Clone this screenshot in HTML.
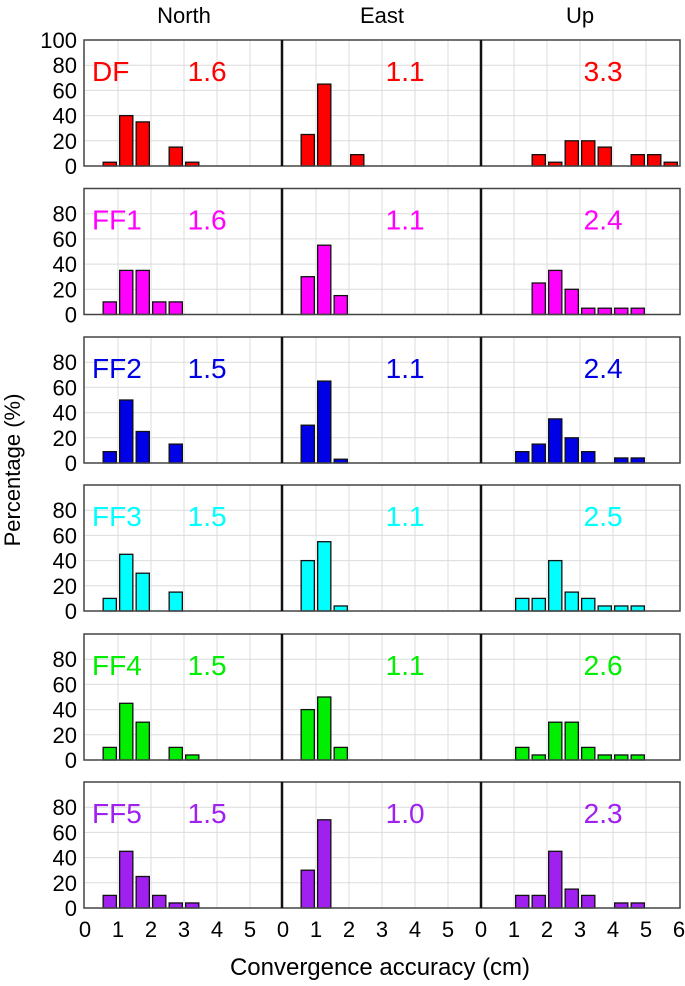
<!DOCTYPE html>
<html><head><meta charset="utf-8"><style>
body{margin:0;background:#fff;width:685px;height:986px;overflow:hidden}
svg{display:block;font-family:"Liberation Sans",Arial,sans-serif}
</style></head><body>
<svg id="chart" width="685" height="986" viewBox="0 0 685 986" xmlns="http://www.w3.org/2000/svg"></svg>
<script>
const rowNames = ["DF","FF1","FF2","FF3","FF4","FF5"];
const rowColors = ["#ff0000","#ff00ff","#0000e6","#00ffff","#00ee00","#a020f0"];
const colNames = ["North","East","Up"];
const binCenters = [0.75,1.25,1.75,2.25,2.75,3.25,3.75,4.25,4.75,5.25,5.75];
const medians = [
  ["1.6","1.1","3.3"],["1.6","1.1","2.4"],["1.5","1.1","2.4"],
  ["1.5","1.1","2.5"],["1.5","1.1","2.6"],["1.5","1.0","2.3"]];
const dfVals = [
  [3,40,35,0,15,3,0,0,0,0,0],
  [25,65,0,9,0,0,0,0,0,0,0],
  [0,0,9,3,20,20,15,0,9,9,3]];
const ff1Vals = [
  [10,35,35,10,10,0,0,0,0,0,0],
  [30,55,15,0,0,0,0,0,0,0,0],
  [0,0,25,35,20,5,5,5,5,0,0]];
const ff2Vals = [
  [9,50,25,0,15,0,0,0,0,0,0],
  [30,65,3,0,0,0,0,0,0,0,0],
  [0,9,15,35,20,9,0,4,4,0,0]];
const ff3Vals = [
  [10,45,30,0,15,0,0,0,0,0,0],
  [40,55,4,0,0,0,0,0,0,0,0],
  [0,10,10,40,15,10,4,4,4,0,0]];
const ff4Vals = [
  [10,45,30,0,10,4,0,0,0,0,0],
  [40,50,10,0,0,0,0,0,0,0,0],
  [0,10,4,30,30,10,4,4,4,0,0]];
const ff5Vals = [
  [10,45,25,10,4,4,0,0,0,0,0],
  [30,70,0,0,0,0,0,0,0,0,0],
  [0,10,10,45,15,10,0,4,4,0,0]];
const allVals = [dfVals,ff1Vals,ff2Vals,ff3Vals,ff4Vals,ff5Vals];
const yTicks = [0,20,40,60,80,100];
const xTicks = [0,1,2,3,4,5,6];

const svg = document.getElementById('chart');
const NS = "http://www.w3.org/2000/svg";
const colX0 = [85,283,481];
const colLeft = [84,282,481];
const colRight = [282,481,680];
const sx = 33;
const rowBottom = [166,314.5,463,611,760,908];
const sy = 1.26;
function X(c,v){return colX0[c]+v*sx;}
function Y(r,v){return rowBottom[r]-v*sy;}
function mk(tag,attrs,parent){const e=document.createElementNS(NS,tag);for(const k in attrs)e.setAttribute(k,attrs[k]);(parent||svg).appendChild(e);return e;}

for(let r=0;r<6;r++){
  const g=mk('g',{});
  
  
  for(let c=0;c<3;c++){
    for(const t of xTicks){const x=X(c,t); if(x>colLeft[c]+2&&x<colRight[c]-2) mk('line',{x1:x,x2:x,y1:Y(r,100),y2:Y(r,0),stroke:'#dcdcdc','stroke-width':1},g);}
    for(const t of yTicks){ if(t>0&&t<100) mk('line',{x1:colLeft[c],x2:colRight[c],y1:Y(r,t),y2:Y(r,t),stroke:'#dcdcdc','stroke-width':1},g);}
    const vals=allVals[r][c];
    for(let i=0;i<binCenters.length;i++){
      if(!vals[i])continue;
      const b=mk('rect',{x:X(c,binCenters[i]-0.2),y:Y(r,vals[i]),width:0.4*sx,height:vals[i]*sy,fill:rowColors[r],stroke:'#111','stroke-width':1.3},g);
      
      
    }
    const t=mk('text',{x:X(c,3.7),y:Y(r,100)+41,'font-size':28,fill:rowColors[r],'text-anchor':'middle'},g);
    t.textContent=medians[r][c];
    
    
  }
  mk('rect',{x:84,y:Y(r,100),width:596,height:100*sy,fill:'none',stroke:'#444','stroke-width':1.5},g);
  mk('line',{x1:282,x2:282,y1:Y(r,100),y2:Y(r,0),stroke:'#111','stroke-width':2.5},g);
  mk('line',{x1:481,x2:481,y1:Y(r,100),y2:Y(r,0),stroke:'#111','stroke-width':2.5},g);
  const lbl=mk('text',{x:92,y:Y(r,100)+41,'font-size':28,fill:rowColors[r]},g);
  lbl.textContent=rowNames[r];
  
  
  for(const t of yTicks){
    if(r>0&&t===100)continue;
    const yt=mk('text',{x:77,y:Y(r,t)+8,'font-size':22,'text-anchor':'end',fill:'#000'},g);
    yt.textContent=t;
    
    
  }
}
for(let c=0;c<3;c++){
  const ct=mk('text',{x:X(c,3),y:23,'font-size':22,'text-anchor':'middle'});
  ct.textContent=colNames[c];
  
  
  for(const t of xTicks){
    if(c<2&&t===6)continue;
    const xt=mk('text',{x:X(c,t),y:937,'font-size':22,'text-anchor':'middle'});
    xt.textContent=t;
    
    
  }
}
const xl=mk('text',{x:380,y:975,'font-size':24,'text-anchor':'middle'});
xl.textContent='Convergence accuracy (cm)';


const yl=mk('text',{x:0,y:0,'font-size':22,'text-anchor':'middle',transform:'translate(20,470) rotate(-90)'});
yl.textContent='Percentage (%)';


</script>
</body></html>
